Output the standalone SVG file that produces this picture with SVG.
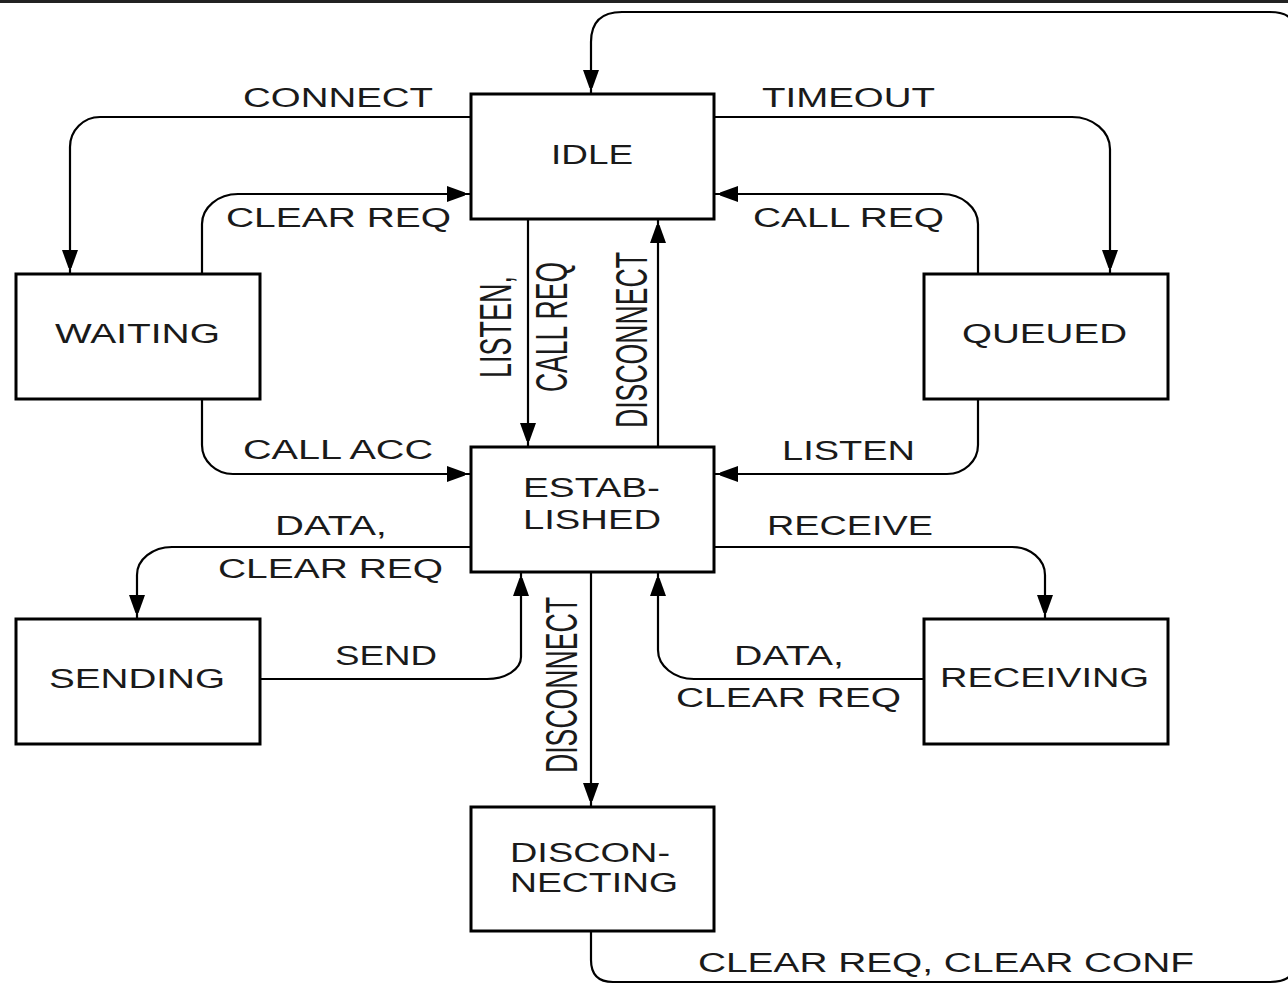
<svg xmlns="http://www.w3.org/2000/svg" width="1288" height="984" viewBox="0 0 1288 984">
<style>
.box{fill:#fff;stroke:#000;stroke-width:3}
.c{fill:none;stroke:#000;stroke-width:2.2;marker-end:url(#arr)}
text{font-family:"Liberation Sans",Arial,sans-serif;font-size:27px;fill:#1a1a1a}
</style>
<defs>
<marker id="arr" markerUnits="userSpaceOnUse" markerWidth="30" markerHeight="20" viewBox="0 -10 30 20" refX="24" refY="0" orient="auto" overflow="visible">
<path d="M0,-8 L18,-1.5 L18,1.5 L0,8 Z" fill="#000"/>
</marker>
</defs>
<rect x="0" y="0" width="1288" height="984" fill="#fff"/>
<rect x="0" y="0" width="1288" height="3" fill="#222"/>

<g id="connectors">
<path class="c" d="M471,117 H100 A30 30 0 0 0 70,147 V274"/>
<path class="c" d="M714,117 H1072 A38 32 0 0 1 1110,149 V274"/>
<path class="c" d="M202,274 V224 A36 30 0 0 1 238,194 H471"/>
<path class="c" d="M202,399 V445 A31 29 0 0 0 233,474 H471"/>
<path class="c" d="M978,274 V224 A36 30 0 0 0 942,194 H714"/>
<path class="c" d="M978,399 V445 A31 29 0 0 1 947,474 H714"/>
<path class="c" d="M528,219 V447"/>
<path class="c" d="M658,447 V219"/>
<path class="c" d="M471,547 H172 A35 28 0 0 0 137,575 V619"/>
<path class="c" d="M260,679 H487 A34 22 0 0 0 521,657 V572"/>
<path class="c" d="M714,547 H1012 A33 28 0 0 1 1045,575 V619"/>
<path class="c" d="M924,679 H694 A36 29 0 0 1 658,650 V572"/>
<path class="c" d="M591,572 V807"/>
<path class="c" d="M591,931 V960 Q591,982 613,982 H1270 Q1284,982 1290,976 L1340,930 V60 L1290,18 Q1284,12 1270,12 H622 Q591,12 591,42 V94"/>
</g>

<g id="labels">
<text x="243" y="107" textLength="190" lengthAdjust="spacingAndGlyphs">CONNECT</text>
<text x="762" y="107" textLength="173" lengthAdjust="spacingAndGlyphs">TIMEOUT</text>
<text x="226" y="227" textLength="225" lengthAdjust="spacingAndGlyphs">CLEAR REQ</text>
<text x="753" y="227" textLength="191" lengthAdjust="spacingAndGlyphs">CALL REQ</text>
<text x="243" y="459" textLength="190" lengthAdjust="spacingAndGlyphs">CALL ACC</text>
<text x="782" y="460" textLength="133" lengthAdjust="spacingAndGlyphs">LISTEN</text>
<text x="767" y="535" textLength="166" lengthAdjust="spacingAndGlyphs">RECEIVE</text>
<text x="275" y="535" textLength="112" lengthAdjust="spacingAndGlyphs">DATA,</text>
<text x="218" y="578" textLength="225" lengthAdjust="spacingAndGlyphs">CLEAR REQ</text>
<text x="335" y="665" textLength="102" lengthAdjust="spacingAndGlyphs">SEND</text>
<text x="734" y="665" textLength="110" lengthAdjust="spacingAndGlyphs">DATA,</text>
<text x="676" y="707" textLength="225" lengthAdjust="spacingAndGlyphs">CLEAR REQ</text>
<text x="698" y="972" textLength="496" lengthAdjust="spacingAndGlyphs">CLEAR REQ, CLEAR CONF</text>
<text transform="translate(511,378) scale(1.65,1) rotate(-90)" textLength="102" lengthAdjust="spacingAndGlyphs">LISTEN,</text>
<text transform="translate(567,392) scale(1.65,1) rotate(-90)" textLength="130" lengthAdjust="spacingAndGlyphs">CALL REQ</text>
<text transform="translate(647,428) scale(1.65,1) rotate(-90)" textLength="176" lengthAdjust="spacingAndGlyphs">DISCONNECT</text>
<text transform="translate(577,773) scale(1.65,1) rotate(-90)" textLength="176" lengthAdjust="spacingAndGlyphs">DISCONNECT</text>
</g>

<g id="idle">
<rect class="box" x="471" y="94" width="243" height="125"/>
<text x="551" y="164" textLength="82" lengthAdjust="spacingAndGlyphs">IDLE</text>
</g>
<g id="waiting">
<rect class="box" x="16" y="274" width="244" height="125"/>
<text x="55" y="343" textLength="165" lengthAdjust="spacingAndGlyphs">WAITING</text>
</g>
<g id="queued">
<rect class="box" x="924" y="274" width="244" height="125"/>
<text x="962" y="343" textLength="165" lengthAdjust="spacingAndGlyphs">QUEUED</text>
</g>
<g id="established">
<rect class="box" x="471" y="447" width="243" height="125"/>
<text x="523" y="497" textLength="137" lengthAdjust="spacingAndGlyphs">ESTAB-</text>
<text x="523" y="529" textLength="138" lengthAdjust="spacingAndGlyphs">LISHED</text>
</g>
<g id="sending">
<rect class="box" x="16" y="619" width="244" height="125"/>
<text x="49" y="688" textLength="176" lengthAdjust="spacingAndGlyphs">SENDING</text>
</g>
<g id="receiving">
<rect class="box" x="924" y="619" width="244" height="125"/>
<text x="940" y="687" textLength="209" lengthAdjust="spacingAndGlyphs">RECEIVING</text>
</g>
<g id="disconnecting">
<rect class="box" x="471" y="807" width="243" height="124"/>
<text x="510" y="862" textLength="160" lengthAdjust="spacingAndGlyphs">DISCON-</text>
<text x="510" y="892" textLength="168" lengthAdjust="spacingAndGlyphs">NECTING</text>
</g>
</svg>
